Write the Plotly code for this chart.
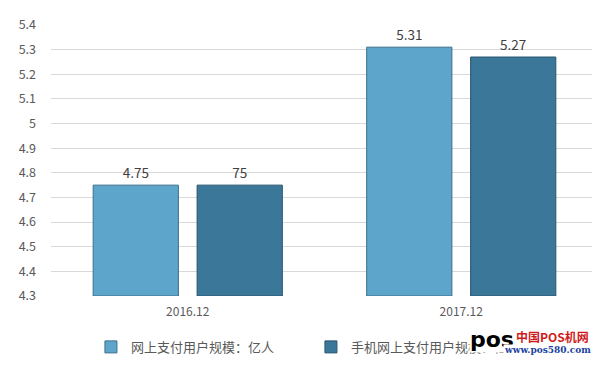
import plotly.graph_objects as go

categories = ["2016.12", "2017.12"]
series1_name = "网上支付用户规模：亿人"
series2_name = "手机网上支付用户规模：亿人"
series1_values = [4.75, 5.31]
series2_values = [4.75, 5.27]
series1_labels = ["4.75", "5.31"]
series2_labels = ["75", "5.27"]
tick_vals = [4.3, 4.4, 4.5, 4.6, 4.7, 4.8, 4.9, 5.0, 5.1, 5.2, 5.3, 5.4]
tick_text = ["4.3", "4.4", "4.5", "4.6", "4.7", "4.8", "4.9", "5", "5.1", "5.2", "5.3", "5.4"]

font_family = "Noto Sans CJK SC, Noto Sans, sans-serif"

fig = go.Figure()
fig.add_trace(go.Bar(
    x=categories, y=[v - 4.3 for v in series1_values], base=4.3,
    name=series1_name, text=series1_labels, textposition="outside",
    marker=dict(color="#5DA5CB", line=dict(color="#3d6f8a", width=1)),
    textfont=dict(size=13.5, color="#404040"), cliponaxis=False,
))
fig.add_trace(go.Bar(
    x=categories, y=[v - 4.3 for v in series2_values], base=4.3,
    name=series2_name, text=series2_labels, textposition="outside",
    marker=dict(color="#3B7798", line=dict(color="#2a5570", width=1)),
    textfont=dict(size=13.5, color="#404040"), cliponaxis=False,
))

fig.update_layout(
    width=592, height=357,
    margin=dict(l=43, r=2, t=17, b=69),
    paper_bgcolor="white", plot_bgcolor="white",
    barmode="group", bargap=0.24, bargroupgap=0.18,
    font=dict(family=font_family, color="#595959", size=12),
    showlegend=True,
    legend=dict(orientation="h", x=0.073, xanchor="left", y=-0.188, yanchor="middle",
                font=dict(size=13, color="#595959"), itemwidth=30,
                entrywidth=175, traceorder="normal"),
    xaxis=dict(showgrid=False, showline=False, ticks="", ticklabelstandoff=7,
               tickfont=dict(size=12, color="#595959")),
    yaxis=dict(range=[4.3, 5.4], tickvals=tick_vals, ticktext=tick_text,
               showgrid=True, gridcolor="#d9d9d9", gridwidth=1, zeroline=False,
               showline=False, ticks="", ticklabelstandoff=14,
               tickfont=dict(size=12.5, color="#595959")),
)

# watermark
fig.add_annotation(xref="paper", yref="paper", x=1.0, y=-0.162, xanchor="right", yanchor="middle",
                   text="<b>pos</b>", showarrow=False, font=dict(size=22, color="black", family="DejaVu Sans"),
                   xshift=-83, bgcolor="white", borderpad=0)
fig.add_annotation(xref="paper", yref="paper", x=1.0, y=-0.148, xanchor="right", yanchor="middle",
                   text="<b>中国POS机网</b>", showarrow=False, font=dict(size=12, color="#d01c1c", family="Noto Sans CJK SC"),
                   xshift=-8, bgcolor="white", borderpad=0)
fig.add_annotation(xref="paper", yref="paper", x=1.0, y=-0.199, xanchor="right", yanchor="middle",
                   text="<b>www.pos580.com</b>", showarrow=False, font=dict(size=9, color="#1a3fa0", family="DejaVu Serif"),
                   xshift=-6, bgcolor="white", borderpad=0)

fig.write_html("out.html")
